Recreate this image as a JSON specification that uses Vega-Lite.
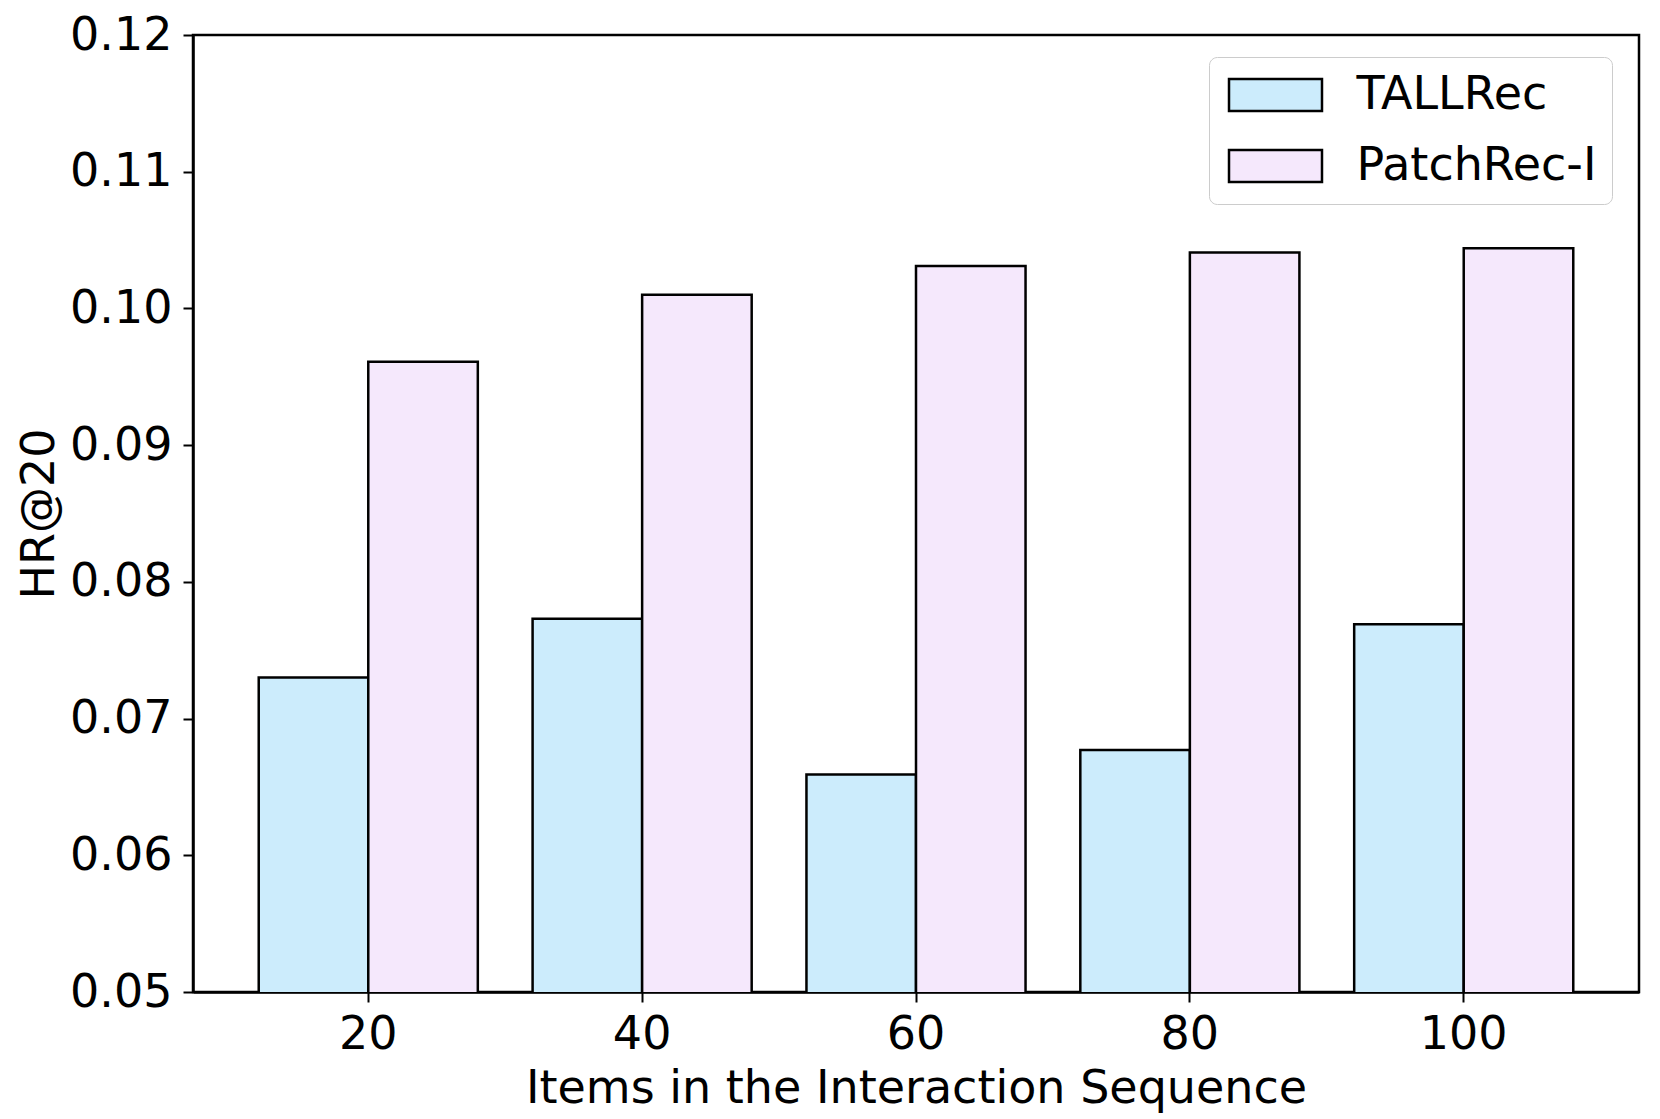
{
  "$schema": "https://vega.github.io/schema/vega-lite/v6.json",
  "width": 1446,
  "height": 957,
  "autosize": {"type": "none"},
  "padding": {"left": 193, "top": 35, "right": 21, "bottom": 127},
  "background": "white",
  "config": {
    "font": "DejaVu Sans",
    "view": {"stroke": "black", "strokeWidth": 2.5}
  },
  "data": {
    "values": [
      {"items": 20, "method": "TALLRec", "hr": 0.0730},
      {"items": 20, "method": "PatchRec-I", "hr": 0.0961},
      {"items": 40, "method": "TALLRec", "hr": 0.0773},
      {"items": 40, "method": "PatchRec-I", "hr": 0.1010},
      {"items": 60, "method": "TALLRec", "hr": 0.0659},
      {"items": 60, "method": "PatchRec-I", "hr": 0.1031},
      {"items": 80, "method": "TALLRec", "hr": 0.0677},
      {"items": 80, "method": "PatchRec-I", "hr": 0.1041},
      {"items": 100, "method": "TALLRec", "hr": 0.0769},
      {"items": 100, "method": "PatchRec-I", "hr": 0.1044}
    ]
  },
  "mark": {"type": "bar", "stroke": "black", "strokeWidth": 2.5, "clip": true},
  "encoding": {
    "x": {
      "field": "items",
      "type": "ordinal",
      "sort": "ascending",
      "scale": {"paddingInner": 0.2, "paddingOuter": 0.24},
      "axis": {
        "title": "Items in the Interaction Sequence",
        "labelAngle": 0,
        "labelFontSize": 46,
        "labelColor": "black",
        "labelPadding": 10,
        "tickSize": 10,
        "tickWidth": 2,
        "tickColor": "black",
        "domainColor": "black",
        "domainWidth": 2.5,
        "titleFontSize": 46,
        "titleFontWeight": "normal",
        "titleColor": "black",
        "titlePadding": 9
      }
    },
    "xOffset": {
      "field": "method",
      "sort": ["TALLRec", "PatchRec-I"],
      "scale": {"paddingInner": 0, "paddingOuter": 0}
    },
    "y": {
      "field": "hr",
      "type": "quantitative",
      "scale": {"domain": [0.05, 0.12], "zero": false, "nice": false},
      "axis": {
        "title": "HR@20",
        "values": [0.05, 0.06, 0.07, 0.08, 0.09, 0.10, 0.11, 0.12],
        "format": ".2f",
        "grid": false,
        "labelFontSize": 46,
        "labelColor": "black",
        "labelPadding": 11,
        "tickSize": 10,
        "tickWidth": 2,
        "tickColor": "black",
        "domainColor": "black",
        "domainWidth": 2.5,
        "titleFontSize": 46,
        "titleFontWeight": "normal",
        "titleColor": "black",
        "titlePadding": 6
      }
    },
    "fill": {
      "field": "method",
      "type": "nominal",
      "scale": {"domain": ["TALLRec", "PatchRec-I"], "range": ["#CCECFC", "#F5E8FC"]},
      "legend": {
        "title": null,
        "orient": "none",
        "legendX": 1016,
        "legendY": 22,
        "padding": 15,
        "fillColor": "white",
        "strokeColor": "#cccccc",
        "cornerRadius": 8,
        "labelFontSize": 46,
        "labelColor": "black",
        "labelLimit": 0,
        "labelOffset": 58,
        "rowPadding": 25,
        "symbolType": "M-2.906,-1L2.906,-1L2.906,1L-2.906,1Z",
        "symbolSize": 1024,
        "symbolOffset": 28.5,
        "symbolStrokeColor": "black",
        "symbolStrokeWidth": 2.5,
        "symbolOpacity": 1
      }
    }
  }
}
